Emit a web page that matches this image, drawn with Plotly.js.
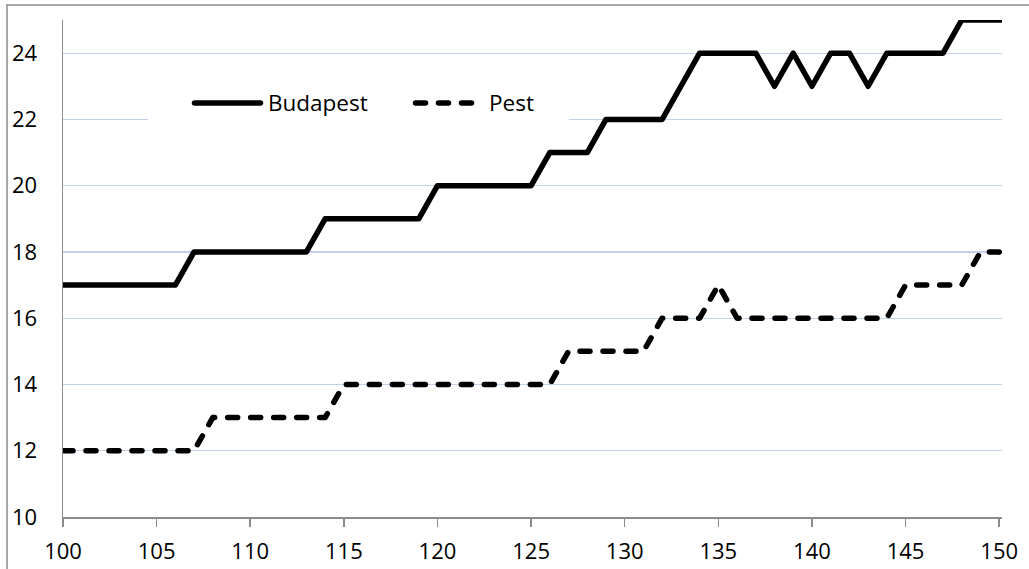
<!DOCTYPE html>
<html>
<head>
<meta charset="utf-8">
<script src="https://cdn.plot.ly/plotly-3.0.1.min.js"></script>
<style>
html,body{margin:0;padding:0;background:#fff;}
#chart{width:1029px;height:569px;}
.js-line{stroke-linecap:round;stroke-linejoin:round;}
.shapelayer path{stroke-linecap:round;}
</style>
</head>
<body>
<div id="chart"></div>
<script>
// ---- data ----
var xValues = [100,101,102,103,104,105,106,107,108,109,110,111,112,113,114,115,116,117,118,119,120,121,122,123,124,125,126,127,128,129,130,131,132,133,134,135,136,137,138,139,140,141,142,143,144,145,146,147,148,149,150,151];
var budapest = [17,17,17,17,17,17,17,18,18,18,18,18,18,18,19,19,19,19,19,19,20,20,20,20,20,20,21,21,21,22,22,22,22,23,24,24,24,24,23,24,23,24,24,23,24,24,24,24,25,25,25,25];
var pest = [12,12,12,12,12,12,12,12,13,13,13,13,13,13,13,14,14,14,14,14,14,14,14,14,14,14,14,15,15,15,15,15,16,16,16,17,16,16,16,16,16,16,16,16,16,17,17,17,17,18,18,17];
var seriesNames = ["Budapest", "Pest"];
var xTicks = [100,105,110,115,120,125,130,135,140,145,150];
var yTicks = [10,12,14,16,18,20,22,24];

// ---- layout geometry ----
var W = 1029, H = 569;
var M = {l:63, r:27, t:20, b:52};
var PW = W - M.l - M.r, PH = H - M.t - M.b;
function fx(px){ return (px - M.l) / PW; }
function fy(py){ return (H - M.b - py) / PH; }

var FONT = "Open Sans, Liberation Sans, sans-serif";

var traces = [
  {x: xValues, y: budapest, name: seriesNames[0], type: "scatter", mode: "lines",
   line: {color: "#000000", width: 5.5}, showlegend: false},
  {x: xValues, y: pest, name: seriesNames[1], type: "scatter", mode: "lines",
   line: {color: "#000000", width: 5.5, dash: "10px,13px"}, showlegend: false}
];

var legY = 103;
var shapes = [
  // outer chart border (top and left)
  {type:"line", xref:"paper", yref:"paper", x0:fx(7), x1:fx(1040), y0:fy(5), y1:fy(5),
   line:{color:"#8c8c8c", width:1.5}, layer:"above"},
  {type:"line", xref:"paper", yref:"paper", x0:fx(7), x1:fx(7), y0:fy(5), y1:fy(580),
   line:{color:"#8c8c8c", width:1.5}, layer:"above"},
  // legend background
  {type:"rect", xref:"paper", yref:"paper", x0:fx(148), x1:fx(569), y0:fy(128), y1:fy(80),
   fillcolor:"#ffffff", line:{width:0}, layer:"above"},
  // legend samples
  {type:"line", xref:"paper", yref:"paper", x0:fx(194.5), x1:fx(260.5), y0:fy(legY), y1:fy(legY),
   line:{color:"#000000", width:5.5}, layer:"above"},
  {type:"line", xref:"paper", yref:"paper", x0:fx(415.5), x1:fx(471.5), y0:fy(legY), y1:fy(legY),
   line:{color:"#000000", width:5.5, dash:"10px,13px"}, layer:"above"}
];

var annotations = [
  {xref:"paper", yref:"paper", x:fx(266), y:fy(legY), xanchor:"left", yanchor:"middle",
   text:seriesNames[0], showarrow:false, font:{family:FONT, size:22.5, color:"#000000"}},
  {xref:"paper", yref:"paper", x:fx(487), y:fy(legY), xanchor:"left", yanchor:"middle",
   text:seriesNames[1], showarrow:false, font:{family:FONT, size:22.5, color:"#000000"}}
];

var layout = {
  width: W, height: H,
  margin: M,
  paper_bgcolor: "#ffffff",
  plot_bgcolor: "#ffffff",
  showlegend: false,
  font: {family: FONT, size: 22, color: "#000000"},
  xaxis: {
    range: [100, 150.15],
    tickvals: xTicks,
    ticktext: xTicks.map(String),
    showgrid: false,
    zeroline: false,
    showline: true, linecolor: "#8c8c8c", linewidth: 1.5,
    ticks: "outside", ticklen: 8, tickwidth: 1.5, tickcolor: "#8c8c8c",
    ticklabelstandoff: 6,
    tickfont: {family: FONT, size: 22, color: "#000000"}
  },
  yaxis: {
    range: [10, 25],
    tickvals: yTicks,
    ticktext: yTicks.map(String),
    showgrid: true, gridcolor: "#c3d1ea", gridwidth: 1.2,
    zeroline: false,
    showline: true, linecolor: "#8c8c8c", linewidth: 1.5,
    ticks: "",
    ticklabelstandoff: 20,
    tickfont: {family: FONT, size: 22, color: "#000000"}
  },
  shapes: shapes,
  annotations: annotations
};

Plotly.newPlot("chart", traces, layout, {staticPlot: true, displayModeBar: false});
</script>
</body>
</html>
